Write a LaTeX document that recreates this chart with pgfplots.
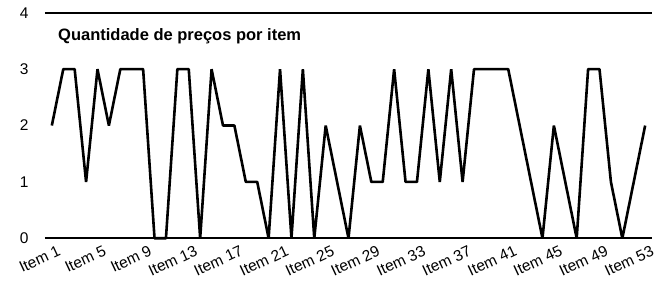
\documentclass[border=0pt]{standalone}
\usepackage{fontspec}
\setmainfont{Liberation Sans}
\usepackage{pgfplots}
\pgfplotsset{compat=1.18}
\begin{document}
\begin{tikzpicture}
\useasboundingbox (-45pt,-47pt) rectangle (612pt,238.3pt);
\begin{axis}[
  at={(0,0)}, anchor=south west,
  scale only axis,
  width=607pt, height=225.5pt,
  xmin=0.4, xmax=53.6, ymin=0, ymax=4,
  axis line style={draw=none},
  ytick={0,1,2,3,4},
  xtick={1,5,...,53},
  xticklabels={Item 1,Item 5,Item 9,Item 13,Item 17,Item 21,Item 25,Item 29,Item 33,Item 37,Item 41,Item 45,Item 49,Item 53},
  major tick length=0pt,
  tick label style={font=\fontsize{15.5}{17}\selectfont},
  /pgf/number format/assume math mode=true,
  yticklabel style={xshift=-13pt},
  xticklabel style={rotate=25, anchor=north east, inner sep=1pt, yshift=-7pt, xshift=3pt},
  clip=false,
]
\draw[line width=1.6pt] (rel axis cs:0,0) -- (rel axis cs:1,0);
\draw[line width=1.6pt] (rel axis cs:0,1) -- (rel axis cs:1,1);
\addplot[black, line width=2.6pt, line join=bevel, mark=none] coordinates {
(1,2) (2,3) (3,3) (4,1) (5,3) (6,2) (7,3) (8,3) (9,3) (10,0)
(11,0) (12,3) (13,3) (14,0) (15,3) (16,2) (17,2) (18,1) (19,1) (20,0)
(21,3) (22,0) (23,3) (24,0) (25,2) (26,1) (27,0) (28,2) (29,1) (30,1)
(31,3) (32,1) (33,1) (34,3) (35,1) (36,3) (37,1) (38,3) (39,3) (40,3)
(41,3) (42,2) (43,1) (44,0) (45,2) (46,1) (47,0) (48,3) (49,3) (50,1)
(51,0) (52,1) (53,2)
};
\node[anchor=base west, font=\bfseries\fontsize{16.5}{18}\selectfont, inner sep=0pt] at ([xshift=13pt,yshift=-27.3pt]rel axis cs:0,1) {Quantidade de preços por item};
\end{axis}
\end{tikzpicture}
\end{document}
